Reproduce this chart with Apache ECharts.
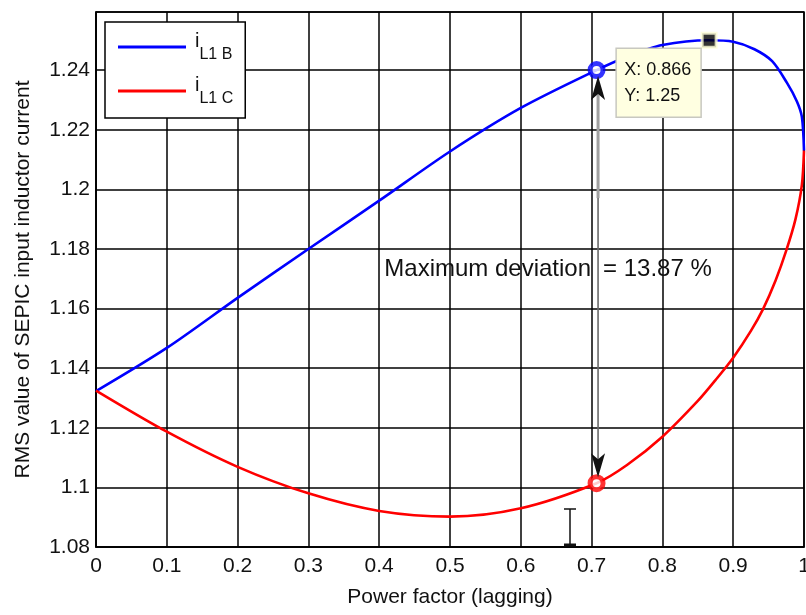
<!DOCTYPE html>
<html>
<head>
<meta charset="utf-8">
<script src="https://cdn.jsdelivr.net/npm/echarts@6/dist/echarts.min.js"></script>
<style>
  html, body { margin: 0; padding: 0; background: #fff; }
  #main { width: 806px; height: 615px; }
</style>
</head>
<body>
<div id="main"></div>
<script>
// RMS input-inductor current of the SEPIC versus power factor, two control cases
const pfB  = [0, 0.1, 0.2, 0.3, 0.4, 0.5, 0.6, 0.707, 0.75, 0.8, 0.866, 0.9, 0.93, 0.955, 0.976, 0.99, 0.997, 1];
const rmsB = [1.1323, 1.1468, 1.1636, 1.1800, 1.1962, 1.2127, 1.2273, 1.2400, 1.2445, 1.2484, 1.2500, 1.2495, 1.2470, 1.2430, 1.2357, 1.2295, 1.2243, 1.2130];

const pfC  = [0, 0.1, 0.2, 0.3, 0.4, 0.5, 0.6, 0.707, 0.75, 0.8, 0.85, 0.875, 0.9, 0.925, 0.9425, 0.96, 0.975, 0.988, 0.997, 1];
const rmsC = [1.1325, 1.1187, 1.1069, 1.0980, 1.0921, 1.0902, 1.0930, 1.1014, 1.1075, 1.1170, 1.1290, 1.1360, 1.1435, 1.1525, 1.1600, 1.1695, 1.1795, 1.1900, 1.2015, 1.2130];

// marked points: the deviation pair at pf = 0.707 and the data tip at the peak
const devPF = 0.707;
const devB = 1.24;
const devC = 1.1014;
const tipPF = 0.866;
const tipRMS = 1.25;
const deviationPct = '13.87';

const seriesNames = ['iL1 B', 'iL1 C'];
const seriesSubs = { 'iL1 B': 'L1 B', 'iL1 C': 'L1 C' };

const FONT = '"Liberation Sans", Arial, sans-serif';
const INK = '#111';

const chart = echarts.init(document.getElementById('main'), null, { renderer: 'canvas' });

const zip = (xs, ys) => xs.map((x, i) => [x, ys[i]]);

const option = {
  animation: false,
  backgroundColor: '#fff',
  grid: {
    left: 96, right: 2, top: 12, bottom: 68,
    show: true, borderColor: '#000', borderWidth: 1.5, backgroundColor: '#fff',
    containLabel: false, outerBoundsMode: 'none'
  },
  legend: {
    orient: 'vertical',
    left: 105, top: 22,
    padding: [9, 12, 11, 13],
    itemWidth: 68, itemHeight: 3, itemGap: 12,
    icon: 'rect',
    backgroundColor: '#fff', borderColor: '#000', borderWidth: 1.5, borderRadius: 0,
    data: seriesNames,
    formatter: name => '{i|i}{s|' + seriesSubs[name] + '}',
    textStyle: {
      color: INK, fontFamily: FONT,
      rich: {
        i: { fontSize: 20, fontFamily: FONT, color: INK, verticalAlign: 'top', lineHeight: 32, padding: [0, 0, 0, 4] },
        s: { fontSize: 16, fontFamily: FONT, color: INK, verticalAlign: 'bottom', lineHeight: 32 }
      }
    }
  },
  xAxis: {
    type: 'value', min: 0, max: 1, interval: 0.1,
    name: 'Power factor (lagging)', nameLocation: 'middle', nameGap: 40,
    nameTextStyle: { fontSize: 21, fontFamily: FONT, color: INK },
    axisLine: { show: true, lineStyle: { color: '#000', width: 1.5 } },
    axisTick: { show: false },
    axisLabel: { fontSize: 21, fontFamily: FONT, color: INK, margin: 9 },
    splitLine: { show: true, lineStyle: { color: '#000', width: 1.5 } }
  },
  yAxis: {
    type: 'value', min: 1.08, max: 1.2595, interval: 0.02,
    name: 'RMS value of SEPIC input inductor current', nameLocation: 'middle', nameGap: 62,
    nameTextStyle: { fontSize: 21, fontFamily: FONT, color: INK },
    axisLine: { show: true, lineStyle: { color: '#000', width: 1.5 } },
    axisTick: { show: false },
    axisLabel: { fontSize: 21, fontFamily: FONT, color: INK, margin: 6, showMaxLabel: false },
    splitLine: { show: true, lineStyle: { color: '#000', width: 1.5 } }
  },
  series: [
    {
      name: seriesNames[0], type: 'line', data: zip(pfB, rmsB),
      smooth: 0.3, showSymbol: false, color: '#0000ff',
      lineStyle: { width: 2.6, color: '#0000ff' }, z: 3
    },
    {
      name: seriesNames[1], type: 'line', data: zip(pfC, rmsC),
      smooth: 0.3, showSymbol: false, color: '#ff0000',
      lineStyle: { width: 2.6, color: '#ff0000' }, z: 3
    },
    {
      name: 'dev-marks', type: 'scatter', z: 5,
      data: [
        { value: [devPF, devB], itemStyle: { color: '#fff', borderColor: '#0000ff' } },
        { value: [devPF, devC], itemStyle: { color: '#fff', borderColor: '#ff0000' } }
      ],
      symbol: 'circle', symbolSize: 13,
      itemStyle: { borderWidth: 5 }
    },
    {
      name: 'tip-mark', type: 'scatter', z: 6,
      data: [[tipPF, tipRMS]],
      symbol: 'rect', symbolSize: 14,
      itemStyle: { color: '#000', borderColor: '#ffffd8', borderWidth: 3 }
    }
  ]
};

chart.setOption(option);

// annotations positioned from the data points
const px = v => chart.convertToPixel({ gridIndex: 0 }, v);
const pB = px([devPF, devB]);
const pC = px([devPF, devC]);
const pT = px([tipPF, tipRMS]);
const pText = px([devPF, 1.1733]);

const ax = pB[0] + 1.5;
const topTip = pB[1] + 6;
const botTip = pC[1] - 6;
const headLen = 24, headHalf = 7, notch = 6;
const split = pB[1] + 128;

const graphics = [
  // shaft of the double arrow
  { type: 'line', z: 10, shape: { x1: ax, y1: topTip + headLen - notch, x2: ax, y2: split },
    style: { stroke: '#a0a0a0', lineWidth: 3 } },
  { type: 'line', z: 10, shape: { x1: ax, y1: split, x2: ax, y2: botTip - headLen + notch },
    style: { stroke: '#6a6a6a', lineWidth: 1.6 } },
  // arrow heads
  { type: 'polygon', z: 11, shape: { points: [[ax, topTip], [ax + headHalf, topTip + headLen], [ax, topTip + headLen - notch], [ax - headHalf, topTip + headLen]] },
    style: { fill: '#111' } },
  { type: 'polygon', z: 11, shape: { points: [[ax, botTip], [ax + headHalf, botTip - headLen], [ax, botTip - headLen + notch], [ax - headHalf, botTip - headLen]] },
    style: { fill: '#111' } },
  // deviation label
  { type: 'text', z: 12, style: { text: 'Maximum deviation', x: ax - 7, y: pText[1], align: 'right', verticalAlign: 'middle',
      font: '24px ' + FONT, fill: INK } },
  { type: 'text', z: 12, style: { text: '= ' + deviationPct + ' %', x: ax + 5, y: pText[1], align: 'left', verticalAlign: 'middle',
      font: '24px ' + FONT, fill: INK } },
  // data tip box
  { type: 'rect', z: 12, shape: { x: pT[0] - 93, y: pT[1] + 8, width: 85, height: 69 },
    style: { fill: '#ffffe1', stroke: '#c8c8c0', lineWidth: 1.5 } },
  { type: 'text', z: 13, style: { text: 'X: ' + tipPF, x: pT[0] - 85, y: pT[1] + 30, verticalAlign: 'middle',
      font: '18px ' + FONT, fill: INK } },
  { type: 'text', z: 13, style: { text: 'Y: ' + tipRMS, x: pT[0] - 85, y: pT[1] + 56, verticalAlign: 'middle',
      font: '18px ' + FONT, fill: INK } },
  // text cursor
  { type: 'polyline', z: 12, shape: { points: [[564, 509], [576, 509]] }, style: { stroke: '#111', lineWidth: 1.5 } },
  { type: 'polyline', z: 12, shape: { points: [[570, 509], [570, 545]] }, style: { stroke: '#111', lineWidth: 1.5 } },
  { type: 'polyline', z: 12, shape: { points: [[564, 545], [576, 545]] }, style: { stroke: '#111', lineWidth: 3 } }
];

chart.setOption({ graphic: graphics });
</script>
</body>
</html>
